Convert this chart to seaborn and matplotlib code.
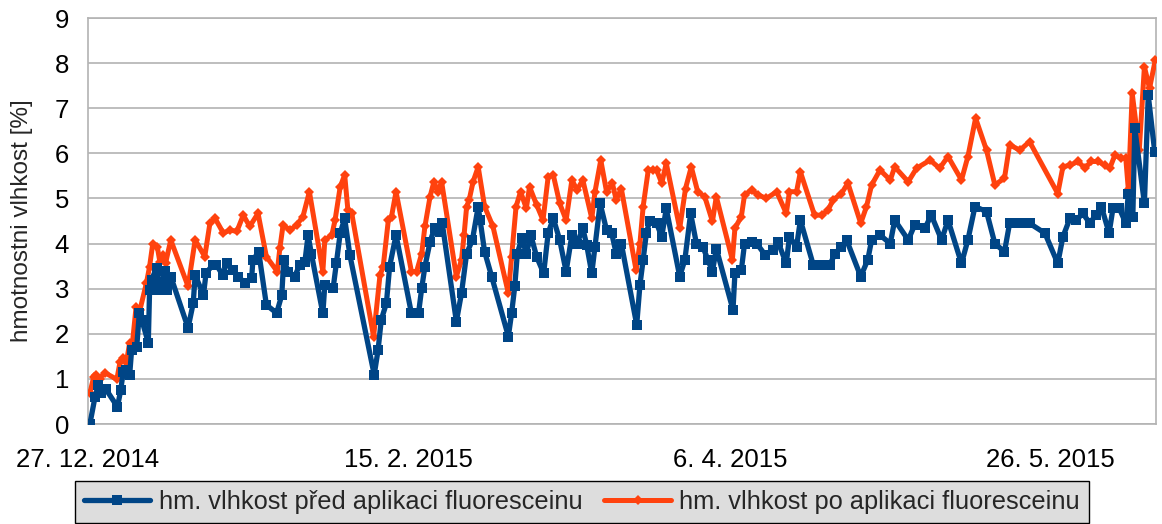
import matplotlib
matplotlib.use('Agg')
import matplotlib.pyplot as plt
import matplotlib.dates as mdates
import seaborn as sns
import pandas as pd

# days counted from 27. 12. 2014
start = pd.Timestamp('2014-12-27')

days_pred = [0.3, 1.1, 1.6, 2.1, 2.8, 4.6, 5.1, 5.5, 6.0, 6.5, 6.8, 7.6, 8.0, 8.4, 9.4, 9.6, 9.9,
             10.7, 11.2, 12.0, 12.3, 12.9, 15.6, 16.4, 16.7, 18.0, 18.4, 19.5, 20.0, 21.0, 21.6,
             22.6, 23.4, 24.5, 25.5, 25.7, 26.6, 27.8, 29.4, 30.2, 30.5, 31.2, 32.2, 33.0, 33.8,
             34.3, 34.8, 36.6, 36.9, 38.2, 38.7, 39.3, 40.0, 40.8, 44.6, 45.2, 45.7, 46.5, 47.0,
             48.0, 50.4, 51.5, 52.0, 52.5, 53.3, 54.0, 54.8, 55.2, 57.4, 58.2, 59.0, 59.9, 60.8,
             61.1, 61.8, 62.9, 65.5, 66.0, 66.5, 66.9, 67.6, 68.3, 69.0, 69.9, 71.0, 71.7, 72.5,
             73.5, 74.5, 75.4, 76.2, 77.1, 77.7, 78.5, 79.0, 79.8, 80.8, 81.6, 82.3, 83.1, 85.5,
             86.0, 86.5, 87.0, 87.5, 88.6, 89.4, 90.1, 92.2, 93.0, 93.9, 94.8, 95.8, 96.6, 97.3,
             97.9, 100.5, 100.8, 101.8, 102.3, 103.4, 104.2, 105.5, 106.7, 107.5, 108.8, 109.3,
             110.4, 111.0, 113.0, 114.5, 115.6, 116.4, 117.4, 118.2, 120.4, 121.5, 122.1, 123.4,
             125.0, 125.7, 127.8, 128.8, 130.4, 131.4, 133.0, 134.0, 136.1, 137.1, 138.2, 140.0,
             141.3, 142.8, 143.6, 145.2, 146.7, 149.1, 151.1, 151.9, 153.0, 154.0, 155.0, 156.1,
             157.0, 157.9, 159.1, 159.7, 160.7, 161.7, 162.1, 162.8, 163.1, 164.6, 165.2, 166.2]
vals_pred = [0.0, 0.6, 0.86, 0.68, 0.77, 0.38, 0.75, 1.16, 1.2, 1.09, 1.64, 1.71, 2.46, 2.3, 1.8, 2.97, 3.2,
             3.46, 2.97, 3.4, 2.97, 3.27, 2.13, 2.68, 3.3, 2.86, 3.35, 3.53, 3.53, 3.3, 3.57,
             3.41, 3.27, 3.12, 3.23, 3.63, 3.82, 2.64, 2.46, 2.86, 3.64, 3.38, 3.27, 3.53, 3.6,
             4.19, 3.78, 2.45, 3.08, 3.01, 3.56, 4.23, 4.56, 3.75, 1.09, 1.64, 2.31, 2.68, 3.49,
             4.19, 2.45, 2.45, 3.01, 3.49, 4.04, 4.34, 4.26, 4.45, 2.27, 2.9, 3.78, 4.08, 4.82,
             4.52, 3.82, 3.27, 1.94, 2.45, 3.05, 3.78, 4.12, 3.78, 4.19, 3.71, 3.34, 4.23, 4.56,
             4.08, 3.38, 4.19, 4.0, 4.34, 3.97, 3.34, 3.93, 4.89, 4.3, 4.23, 3.78, 4.0, 2.2,
             3.08, 3.64, 4.23, 4.49, 4.45, 4.15, 4.78, 3.27, 3.64, 4.67, 4.0, 3.93, 3.64, 3.38,
             3.89, 2.53, 3.34, 3.41, 4.0, 4.04, 4.0, 3.75, 3.86, 4.04, 3.56, 4.15,
             3.93, 4.52, 3.53, 3.53, 3.53, 3.78, 3.93, 4.08, 3.27, 3.64, 4.08, 4.19,
             4.0, 4.52, 4.08, 4.41, 4.34, 4.63, 4.08, 4.52, 3.56, 4.08, 4.82, 4.71,
             4.0, 3.82, 4.45, 4.45, 4.45, 4.23, 3.56, 4.15, 4.56, 4.52, 4.67, 4.45,
             4.63, 4.82, 4.23, 4.78, 4.78, 4.45, 5.11, 4.6, 6.56, 4.89, 7.29, 6.04]

days_po = [0.3, 0.9, 1.3, 1.8, 2.6, 4.5, 5.0, 5.5, 6.0, 6.5, 6.9, 7.5, 8.1, 9.1, 9.6, 10.1, 10.8,
           11.2, 11.7, 12.1, 12.9, 15.6, 16.7, 18.2, 19.0, 19.8, 21.1, 22.1, 23.2, 24.2, 25.2,
           26.5, 27.8, 29.5, 29.9, 30.4, 31.5, 32.5, 33.5, 34.5, 36.6, 36.9, 38.0, 38.5, 39.3,
           40.0, 40.5, 41.1, 44.5, 45.5, 46.0, 46.8, 47.3, 48.0, 50.4, 51.2, 52.0, 52.5, 53.3,
           53.9, 54.5, 55.1, 57.4, 58.2, 58.6, 59.0, 59.4, 60.0, 60.8, 61.8, 63.1, 65.5, 66.0,
           66.7, 67.4, 68.3, 68.8, 69.9, 70.9, 71.7, 72.5, 73.5, 74.5, 75.4, 76.2, 77.1, 78.5,
           79.0, 79.9, 80.8, 81.7, 82.3, 83.1, 85.4, 86.0, 86.5, 87.3, 88.0, 88.6, 89.4, 90.1,
           92.2, 93.1, 94.0, 95.0, 96.1, 97.3, 97.9, 100.4, 100.8, 101.8, 102.3, 103.4, 104.4,
           105.7, 107.3, 108.8, 109.3, 110.4, 111.0, 113.2, 114.3, 115.3, 116.1, 117.4, 118.4,
           120.4, 121.3, 122.1, 123.4, 125.0, 125.7, 127.8, 129.1, 131.2, 132.7, 134.0, 136.1,
           137.1, 138.3, 140.0, 141.3, 142.8, 143.6, 145.2, 146.7, 151.1, 151.9, 153.0, 154.3,
           155.3, 156.3, 157.4, 158.4, 159.2, 160.0, 161.0, 161.7, 162.1, 162.7, 163.8, 164.6,
           165.4, 166.3]
vals_po = [0.68, 1.05, 1.09, 1.0, 1.14, 0.99, 1.38, 1.46, 1.38, 1.8, 1.75, 2.6, 2.53, 3.12, 3.49, 4.0, 3.93,
           3.6, 3.75, 3.57, 4.08, 3.05, 4.08, 3.71, 4.45, 4.56, 4.23, 4.3, 4.27, 4.63, 4.38,
           4.67, 3.71, 3.38, 3.9, 4.41, 4.3, 4.41, 4.6, 5.15, 3.38, 4.08, 4.19, 4.52, 5.26,
           5.52, 4.74, 4.67, 1.94, 3.3, 3.49, 4.52, 4.6, 5.15, 3.38, 3.38, 3.78, 4.38, 5.04,
           5.37, 5.15, 5.37, 3.27, 3.64, 4.19, 4.82, 4.97, 5.37, 5.7, 4.82, 4.38, 2.9, 3.71,
           4.82, 5.15, 4.78, 5.26, 4.86, 4.52, 5.48, 5.52, 4.89, 4.52, 5.41, 5.19, 5.41, 4.56,
           5.15, 5.85, 5.15, 5.34, 4.97, 5.22, 3.41, 4.0, 4.82, 5.63, 5.63, 5.63, 5.34, 5.78,
           4.34, 5.22, 5.7, 5.15, 5.04, 4.49, 5.04, 3.64, 4.34, 4.6, 5.08, 5.19, 5.08,
           5.0, 5.15, 4.67, 5.15, 5.15, 5.59, 4.63, 4.63, 4.74, 4.97, 5.11, 5.34,
           4.45, 4.82, 5.3, 5.63, 5.41, 5.7, 5.37, 5.67, 5.85, 5.67, 5.93, 5.41,
           5.93, 6.78, 6.07, 5.3, 5.45, 6.19, 6.07, 6.26, 5.11, 5.7, 5.74, 5.82,
           5.67, 5.82, 5.82, 5.74, 5.67, 5.96, 5.89, 5.89, 5.19, 7.33, 6.07, 7.92,
           7.44, 8.07]

label_pred = 'hm. vlhkost před aplikaci fluoresceinu'
label_po = 'hm. vlhkost po aplikaci fluoresceinu'
tick_dates = ['2014-12-27', '2015-02-15', '2015-04-06', '2015-05-26']
y_ticks = list(range(0, 10))

df_pred = pd.DataFrame({'datum': start + pd.to_timedelta(days_pred, unit='D'), 'vlhkost': vals_pred})
df_po = pd.DataFrame({'datum': start + pd.to_timedelta(days_po, unit='D'), 'vlhkost': vals_po})

sns.set_style('white')
plt.rcParams['font.family'] = ['Liberation Sans', 'DejaVu Sans']

fig = plt.figure(figsize=(11.62, 5.24), dpi=100)
ax = fig.add_axes([0.0757, 0.1908, 0.9191, 0.7748])

sns.lineplot(data=df_pred, x='datum', y='vlhkost', ax=ax, color='#004586', linewidth=3.8,
             marker='s', markersize=7, markeredgewidth=0, label=label_pred, zorder=4)
sns.lineplot(data=df_po, x='datum', y='vlhkost', ax=ax, color='#ff420e', linewidth=3.6,
             marker='D', markersize=5.5, markeredgewidth=0, label=label_po, zorder=3)

ax.set_ylim(0, 9)
ax.set_yticks(y_ticks)
ax.set_xlim(start, start + pd.Timedelta(days=166.4))
ax.set_xticks(pd.to_datetime(tick_dates))
ax.xaxis.set_major_formatter(plt.FuncFormatter(
    lambda v, pos: '{0}. {1}. {2}'.format(mdates.num2date(v).day, mdates.num2date(v).month,
                                          mdates.num2date(v).year)))
ax.grid(axis='y', color='#b3b3b3', linewidth=1.2)
ax.grid(axis='x', visible=False)
for s in ax.spines.values():
    s.set_color('#b3b3b3')
    s.set_linewidth(1.2)
ax.tick_params(axis='both', direction='out', length=7.5, color='#b3b3b3', width=1.2,
               labelsize=18.5, labelcolor='black', pad=6)
ax.tick_params(axis='x', pad=10)
ax.set_xlabel('')
ax.set_ylabel('hmotnostni vlhkost [%]', fontsize=17.5)
ax.yaxis.set_label_coords(-0.0515, 0.5)

ax.get_legend().remove()
h, l = ax.get_legend_handles_labels()
leg = fig.legend(h, l, loc='center', bbox_to_anchor=(0.501, 0.042), ncol=2, fontsize=18.3,
                 frameon=True, fancybox=False, facecolor='#dddddd', edgecolor='black',
                 handlelength=2.6, handletextpad=0.35, columnspacing=0.85, borderpad=0.35)
leg.get_frame().set_linewidth(1.0)
leg.get_frame().set_alpha(1)

fig.savefig('out.png', dpi=100)
